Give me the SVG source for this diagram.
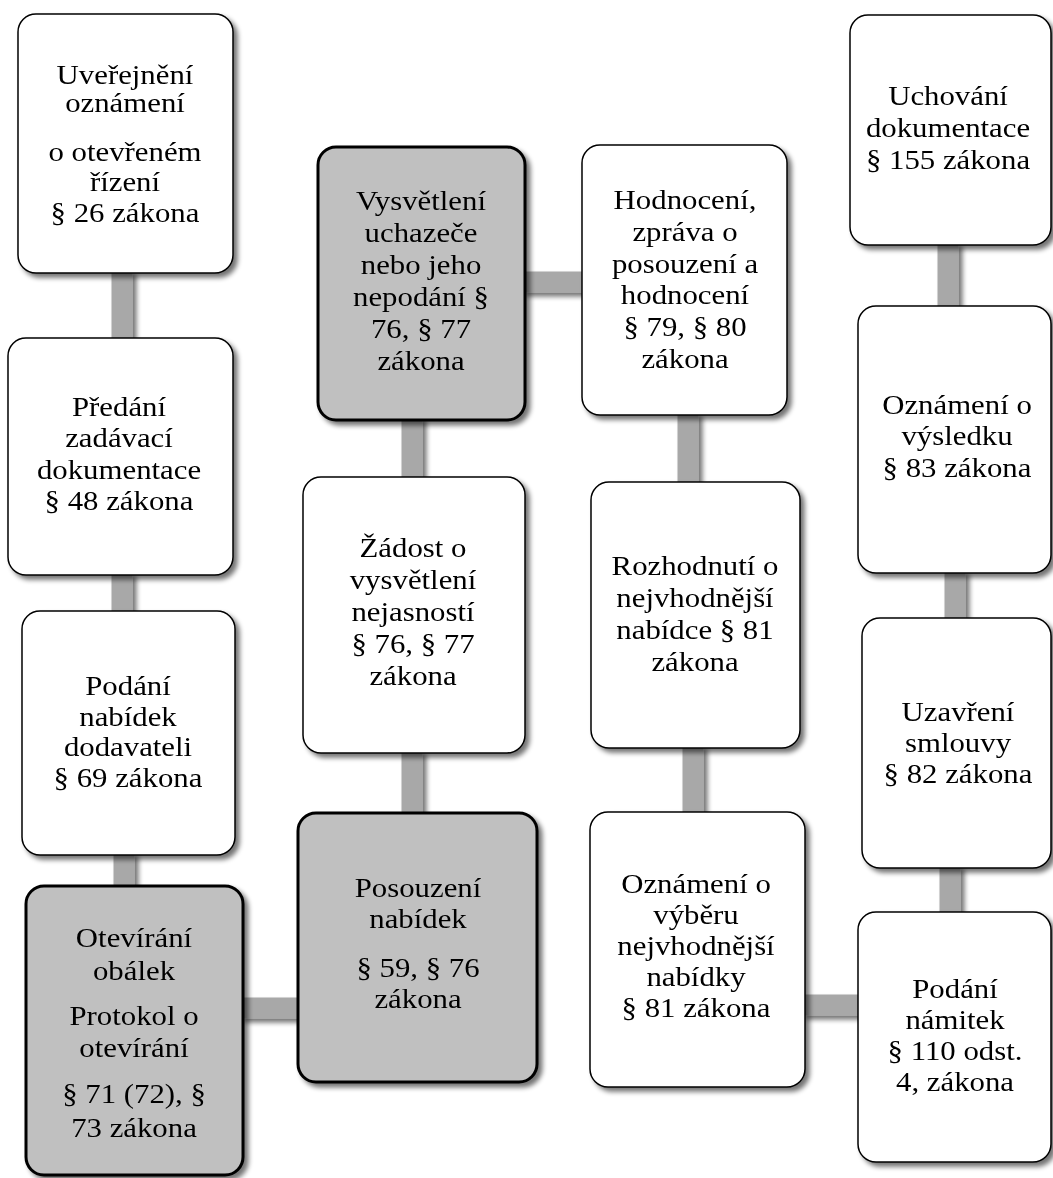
<svg xmlns="http://www.w3.org/2000/svg" width="1053" height="1178" viewBox="0 0 1053 1178">
<defs>
<filter id="sh" x="-10%" y="-10%" width="130%" height="130%">
<feGaussianBlur in="SourceAlpha" stdDeviation="2.5"/>
<feOffset dx="4" dy="4" result="b"/>
<feComponentTransfer><feFuncA type="linear" slope="0.55"/></feComponentTransfer>
<feMerge><feMergeNode/><feMergeNode in="SourceGraphic"/></feMerge>
</filter>
</defs>
<style>
.box{fill:#ffffff;stroke:#000;stroke-width:1.5}
.gbox{fill:#c0c0c0;stroke:#000;stroke-width:3}
.con{stroke:#a8a8a8;stroke-width:21;fill:none}
text{font-family:"Liberation Serif","Times New Roman",serif;font-size:28px;fill:#000;text-anchor:middle}
</style>
<rect width="1053" height="1178" fill="#ffffff"/>
<g id="connectors" filter="url(#sh)">
<line class="con" x1="122" y1="270" x2="122" y2="340"/>
<line class="con" x1="122" y1="572" x2="122" y2="614"/>
<line class="con" x1="124" y1="852" x2="124" y2="889"/>
<line class="con" x1="240" y1="1008" x2="300" y2="1008"/>
<line class="con" x1="412" y1="750" x2="412" y2="816"/>
<line class="con" x1="412" y1="416" x2="412" y2="480"/>
<line class="con" x1="522" y1="282" x2="585" y2="282"/>
<line class="con" x1="688" y1="412" x2="688" y2="485"/>
<line class="con" x1="693" y1="745" x2="693" y2="815"/>
<line class="con" x1="802" y1="1005" x2="861" y2="1005"/>
<line class="con" x1="950" y1="865" x2="950" y2="915"/>
<line class="con" x1="955" y1="570" x2="955" y2="621"/>
<line class="con" x1="948" y1="242" x2="948" y2="309"/>
</g>
<g id="nA" filter="url(#sh)"><rect class="box" x="18" y="14" width="215" height="259" rx="18"/>
<g transform="translate(125 0) scale(1.1 1)"><text x="0" y="84">Uveřejnění</text><text x="0" y="112">oznámení</text><text x="0" y="161">o otevřeném</text><text x="0" y="191">řízení</text><text x="0" y="222">§ 26 zákona</text></g></g>
<g id="nB" filter="url(#sh)"><rect class="box" x="8" y="338" width="225" height="237" rx="18"/>
<g transform="translate(119 0) scale(1.1 1)"><text x="0" y="416">Předání</text><text x="0" y="447">zadávací</text><text x="0" y="479">dokumentace</text><text x="0" y="510">§ 48 zákona</text></g></g>
<g id="nC" filter="url(#sh)"><rect class="box" x="22" y="611" width="213" height="244" rx="18"/>
<g transform="translate(128 0) scale(1.1 1)"><text x="0" y="695">Podání</text><text x="0" y="726">nabídek</text><text x="0" y="756">dodavateli</text><text x="0" y="787">§ 69 zákona</text></g></g>
<g id="nD" filter="url(#sh)"><rect class="gbox" x="26" y="886" width="217" height="289" rx="18"/>
<g transform="translate(134 0) scale(1.1 1)"><text x="0" y="947">Otevírání</text><text x="0" y="980">obálek</text><text x="0" y="1025">Protokol o</text><text x="0" y="1057">otevírání</text><text x="0" y="1103">§ 71 (72), §</text><text x="0" y="1137">73 zákona</text></g></g>
<g id="nE" filter="url(#sh)"><rect class="gbox" x="298" y="813" width="239" height="269" rx="18"/>
<g transform="translate(418 0) scale(1.1 1)"><text x="0" y="897">Posouzení</text><text x="0" y="928">nabídek</text><text x="0" y="977">§ 59, § 76</text><text x="0" y="1008">zákona</text></g></g>
<g id="nF" filter="url(#sh)"><rect class="box" x="303" y="477" width="222" height="276" rx="18"/>
<g transform="translate(413 0) scale(1.1 1)"><text x="0" y="557">Žádost o</text><text x="0" y="589">vysvětlení</text><text x="0" y="621">nejasností</text><text x="0" y="653">§ 76, § 77</text><text x="0" y="685">zákona</text></g></g>
<g id="nG" filter="url(#sh)"><rect class="gbox" x="318" y="147" width="207" height="273" rx="18"/>
<g transform="translate(421 0) scale(1.1 1)"><text x="0" y="210">Vysvětlení</text><text x="0" y="242">uchazeče</text><text x="0" y="274">nebo jeho</text><text x="0" y="306">nepodání §</text><text x="0" y="338">76, § 77</text><text x="0" y="370">zákona</text></g></g>
<g id="nH" filter="url(#sh)"><rect class="box" x="582" y="145" width="205" height="270" rx="18"/>
<g transform="translate(685 0) scale(1.1 1)"><text x="0" y="209">Hodnocení,</text><text x="0" y="241">zpráva o</text><text x="0" y="273">posouzení a</text><text x="0" y="304">hodnocení</text><text x="0" y="336">§ 79, § 80</text><text x="0" y="368">zákona</text></g></g>
<g id="nI" filter="url(#sh)"><rect class="box" x="591" y="482" width="209" height="266" rx="18"/>
<g transform="translate(695 0) scale(1.1 1)"><text x="0" y="575">Rozhodnutí o</text><text x="0" y="607">nejvhodnější</text><text x="0" y="639">nabídce § 81</text><text x="0" y="671">zákona</text></g></g>
<g id="nJ" filter="url(#sh)"><rect class="box" x="590" y="812" width="215" height="275" rx="18"/>
<g transform="translate(696 0) scale(1.1 1)"><text x="0" y="893">Oznámení o</text><text x="0" y="924">výběru</text><text x="0" y="955">nejvhodnější</text><text x="0" y="986">nabídky</text><text x="0" y="1017">§ 81 zákona</text></g></g>
<g id="nK" filter="url(#sh)"><rect class="box" x="858" y="912" width="193" height="250" rx="18"/>
<g transform="translate(955 0) scale(1.1 1)"><text x="0" y="998">Podání</text><text x="0" y="1029">námitek</text><text x="0" y="1060">§ 110 odst.</text><text x="0" y="1091">4, zákona</text></g></g>
<g id="nL" filter="url(#sh)"><rect class="box" x="862" y="618" width="189" height="250" rx="18"/>
<g transform="translate(958 0) scale(1.1 1)"><text x="0" y="721">Uzavření</text><text x="0" y="752">smlouvy</text><text x="0" y="783">§ 82 zákona</text></g></g>
<g id="nM" filter="url(#sh)"><rect class="box" x="858" y="306" width="193" height="267" rx="18"/>
<g transform="translate(957 0) scale(1.1 1)"><text x="0" y="414">Oznámení o</text><text x="0" y="445">výsledku</text><text x="0" y="477">§ 83 zákona</text></g></g>
<g id="nN" filter="url(#sh)"><rect class="box" x="850" y="15" width="201" height="230" rx="18"/>
<g transform="translate(948 0) scale(1.1 1)"><text x="0" y="105">Uchování</text><text x="0" y="137">dokumentace</text><text x="0" y="169">§ 155 zákona</text></g></g>
</svg>
